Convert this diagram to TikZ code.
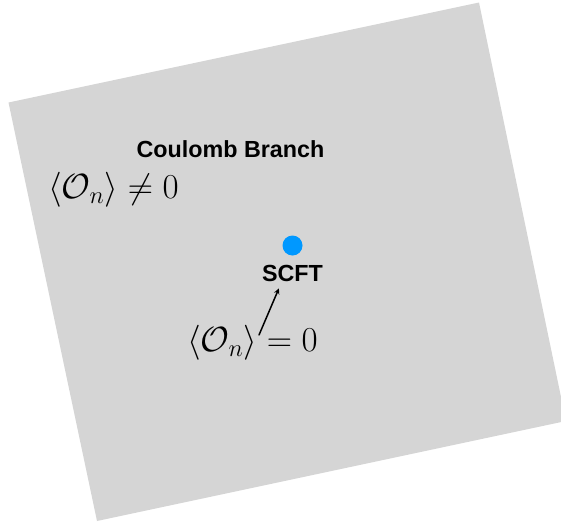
\documentclass[tikz,border=0pt]{standalone}
\usepackage{fix-cm}
\usepackage{fontspec}
\newfontfamily\labelfont{Liberation Sans}
\definecolor{planegray}{RGB}{213,213,213}
\definecolor{scftblue}{RGB}{0,152,255}
\begin{document}
\begin{tikzpicture}[x=1pt, y=-1pt, line cap=round, line join=round, >=stealth]
	\tikzset{name style/.style={font=\labelfont\bfseries\fontsize{23.3}{25}\selectfont, inner sep=0pt, anchor=base},
		vev style/.style={font=\fontsize{35}{38}\selectfont, inner sep=0pt, anchor=base}}
	\useasboundingbox (0,0) rectangle (561,523);
	\fill[planegray] (8.5,102.5) -- (479,2.5) -- (566,421) -- (97,521) -- cycle;
	\node[name style] (coulomb) at (230.5,157) {Coulomb Branch};
	\node[vev style] (nonzero) at (113.5,198) {$\langle\mathcal{O}_n\rangle\neq0$};
	\node[circle, fill=scftblue, minimum size=20pt, inner sep=0pt] (dot) at (292.5,245.5) {};
	\node[name style] (scft) at (292.5,281) {SCFT};
	\node[vev style] (zero) at (252.5,351) {$\langle\mathcal{O}_n\rangle=0$};
	\coordinate (tail) at (259,335);
	\draw[->, line width=1.5pt] (tail) -- ([xshift=17pt, yshift=-7pt]scft.south west);
\end{tikzpicture}
\end{document}
